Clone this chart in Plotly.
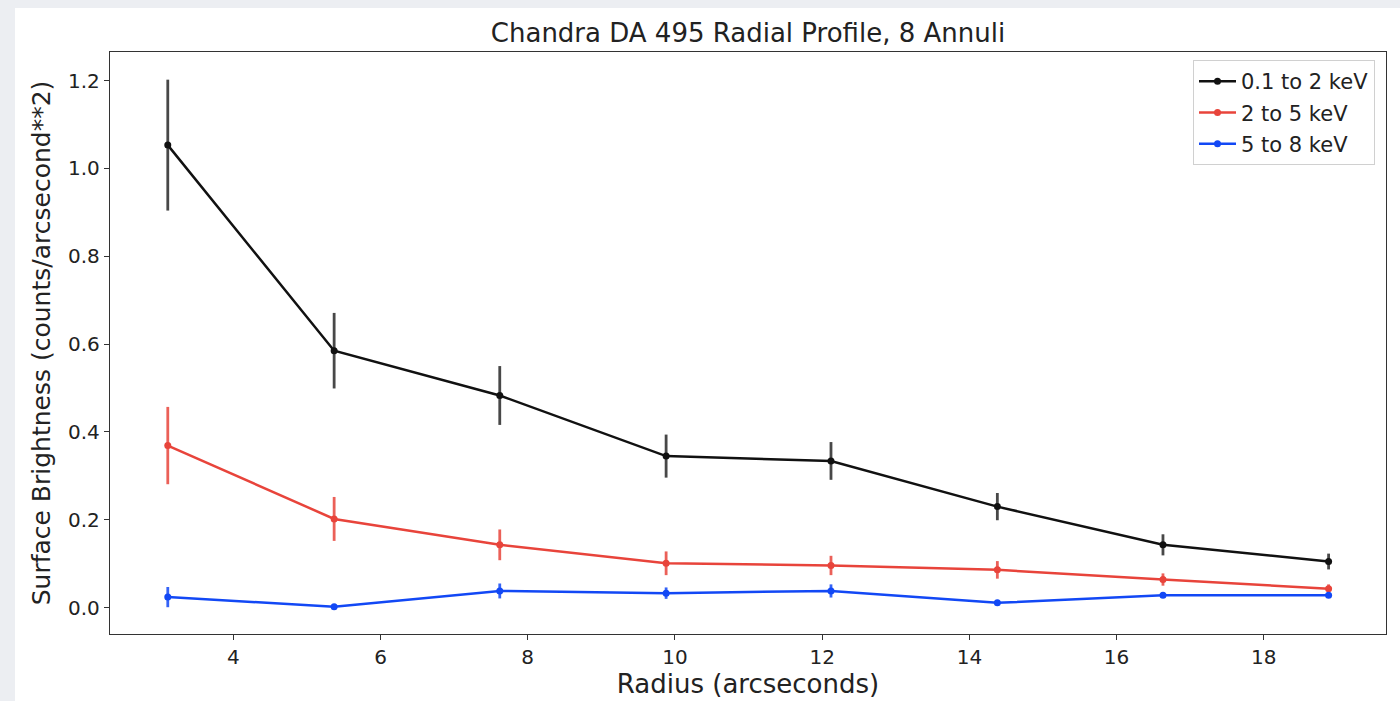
import plotly.graph_objects as go

# Radial profile of DA 495 in three Chandra energy bands
radius = [3.11, 5.37, 7.62, 9.88, 12.12, 14.38, 16.63, 18.88]

soft = [1.053, 0.585, 0.483, 0.345, 0.334, 0.230, 0.143, 0.105]
soft_err = [0.149, 0.086, 0.067, 0.049, 0.043, 0.031, 0.024, 0.018]

medium = [0.369, 0.202, 0.143, 0.101, 0.096, 0.086, 0.064, 0.043]
medium_err = [0.088, 0.050, 0.035, 0.027, 0.022, 0.020, 0.014, 0.010]

hard = [0.024, 0.002, 0.038, 0.033, 0.038, 0.011, 0.028, 0.028]
hard_err = [0.023, 0.003, 0.017, 0.013, 0.015, 0.004, 0.006, 0.005]

band_names = ["0.1 to 2 keV", "2 to 5 keV", "5 to 8 keV"]
band_colors = ["#111111", "#e8443b", "#1248f5"]
band_bars = ["rgba(40,40,40,0.85)", "rgba(232,68,59,0.85)", "rgba(18,72,245,0.85)"]

x_ticks = [4, 6, 8, 10, 12, 14, 16, 18]
y_ticks = [0.0, 0.2, 0.4, 0.6, 0.8, 1.0, 1.2]

FONT = "DejaVu Sans"
TEXT = "#222222"

fig = go.Figure()
for i, (vals, errs) in enumerate([(soft, soft_err), (medium, medium_err), (hard, hard_err)]):
    fig.add_trace(go.Scatter(
        x=radius, y=vals, name=band_names[i], mode="lines+markers",
        legendgroup=f"g{i}",
        line=dict(color=band_colors[i], width=2.5),
        marker=dict(color=band_colors[i], size=7),
        error_y=dict(type="data", array=errs, visible=True, width=0,
                     thickness=2.8, color=band_bars[i]),
    ))

# light page margin strips on the top and left
L, R, T, B = 110, 14, 52, 67
W, H = 1400, 701
pw, ph = W - L - R, H - T - B
def px_x(p):
    return (p - L) / pw
def px_y(p):
    return 1 - (p - T) / ph

fig.add_shape(type="rect", xref="paper", yref="paper", layer="below",
              x0=px_x(0), x1=px_x(W), y0=px_y(0), y1=px_y(H),
              fillcolor="#eceef2", line=dict(width=0))
fig.add_shape(type="rect", xref="paper", yref="paper", layer="below",
              x0=px_x(15), x1=px_x(W), y0=px_y(8), y1=px_y(H),
              fillcolor="white", line=dict(width=0))

axis_common = dict(
    showline=True, linecolor="#333333", linewidth=1.3, mirror=True,
    ticks="outside", ticklen=5, tickwidth=1.2, tickcolor="#333333",
    showgrid=False, zeroline=False, automargin=False,
    tickfont=dict(family=FONT, size=20, color=TEXT),
)

fig.update_layout(
    width=W, height=H,
    margin=dict(l=L, r=R, t=T, b=B, autoexpand=False),
    paper_bgcolor="white", plot_bgcolor="white",
    title=dict(text="Chandra DA 495 Radial Profile, 8 Annuli",
               xref="paper", x=0.5, xanchor="center",
               yref="container", y=1 - 33 / H, yanchor="middle",
               font=dict(family=FONT, size=26, color=TEXT)),
    xaxis=dict(range=[2.325, 19.66], tickvals=x_ticks,
               title=dict(text="Radius (arcseconds)", standoff=6,
                          font=dict(family=FONT, size=26, color=TEXT)),
               **axis_common),
    yaxis=dict(range=[-0.06, 1.265], tickvals=y_ticks, tickformat=".1f",
               title=dict(text="Surface Brightness (counts/arcsecond**2)", standoff=10,
                          font=dict(family=FONT, size=25, color=TEXT)),
               **axis_common),
    legend=dict(x=px_x(1375), xanchor="right", y=px_y(60), yanchor="top",
                bgcolor="white", bordercolor="#d0d0d0", borderwidth=1,
                font=dict(family=FONT, size=21, color=TEXT),
                traceorder="grouped", tracegroupgap=1,
                itemwidth=37),
    showlegend=True,
)

fig.write_html("out.html")
